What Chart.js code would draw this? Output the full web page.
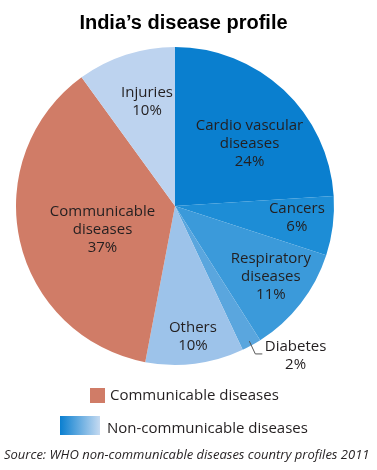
<!DOCTYPE html>
<html>
<head>
<meta charset="utf-8">
<script src="https://cdn.jsdelivr.net/npm/chart.js@4.4.1/dist/chart.umd.min.js"></script>
<style>
  body { margin: 0; background: #fff; }
  #wrap { position: relative; width: 377px; height: 470px; overflow: hidden; }
  #pie { position: absolute; left: 0; top: 0; }
  .txt { position: absolute; white-space: nowrap; color: #231f20; }
  #title { left: 0; width: 367px; top: 11px; text-align: center; font: bold 20px "Liberation Sans", Arial, sans-serif; color: #000; }
  .sw { position: absolute; }
  .leg { font: 15px "Open Sans", sans-serif; }
  #src { left: 4px; top: 445px; font: italic 13px "Open Sans", sans-serif; }
</style>
</head>
<body>
<div id="wrap">
  <canvas id="pie" width="377" height="470"></canvas>
  <div id="title" class="txt">India’s disease profile</div>
  <div class="sw" style="left:90px;top:388px;width:15px;height:15px;background:#d07c67"></div>
  <div class="txt leg" style="left:110px;top:384px">Communicable diseases</div>
  <div class="sw" style="left:60px;top:416px;width:40px;height:19px;background:linear-gradient(to right,#0a7fd0,#c5daf1)"></div>
  <div class="txt leg" style="left:107px;top:417px">Non-communicable diseases</div>
  <div id="src" class="txt">Source: WHO non-communicable diseases country profiles 2011</div>
</div>
<script>
// données (%)
var categories = ["Cardio vascular diseases", "Cancers", "Respiratory diseases", "Diabetes", "Others", "Communicable diseases", "Injuries"];
var values = [24, 6, 11, 2, 10, 37, 10];
var labelLines = [["Cardio vascular", "diseases"], ["Cancers"], ["Respiratory", "diseases"], ["Diabetes"], ["Others"], ["Communicable", "diseases"], ["Injuries"]];
var colors = ["#0a7fcf", "#1d8dd6", "#3b9ada", "#5aa6de", "#9dc3ea", "#d07c67", "#bdd3ef"];

// placement des étiquettes : fraction du rayon, décalage d'angle (degrés)
var placement = [
  { f: 0.61, a: 7 },
  { f: 0.77, a: -1.6 },
  { f: 0.75, a: -1.3 },
  { f: 1.21, a: -10, outside: true },
  { f: 0.83, a: -0.6 },
  { f: 0.48, a: -5.6 },
  { f: 0.68, a: 3 }
];

var sliceLabels = {
  id: "sliceLabels",
  afterDatasetsDraw: function(chart) {
    var ctx = chart.ctx;
    var arcs = chart.getDatasetMeta(0).data;
    ctx.save();
    ctx.fillStyle = "#231f20";
    ctx.font = "15px 'Open Sans', sans-serif";
    ctx.textAlign = "center";
    ctx.textBaseline = "middle";
    arcs.forEach(function(arc, i) {
      var p = arc.getProps(["x", "y", "startAngle", "endAngle", "outerRadius"], true);
      var mid = (p.startAngle + p.endAngle) / 2;
      var pl = placement[i];
      var ang = mid + pl.a * Math.PI / 180;
      var cx = p.x + Math.cos(ang) * p.outerRadius * pl.f;
      var cy = p.y + Math.sin(ang) * p.outerRadius * pl.f;
      var lines = labelLines[i].concat([values[i] + "%"]);
      var lh = 18;
      var y0 = cy - (lines.length - 1) * lh / 2;
      if (pl.outside) {
        // trait de rappel
        var ex = p.x + Math.cos(mid) * p.outerRadius * 0.97;
        var ey = p.y + Math.sin(mid) * p.outerRadius * 0.97;
        ctx.strokeStyle = "#555";
        ctx.lineWidth = 1;
        ctx.beginPath();
        ctx.moveTo(ex, ey);
        ctx.lineTo(ex + 6, y0 + 7);
        ctx.lineTo(ex + 13, y0 + 7);
        ctx.stroke();
      }
      lines.forEach(function(t, k) {
        ctx.fillText(t, cx, y0 + k * lh);
      });
    });
    ctx.restore();
  }
};

var chart = new Chart(document.getElementById("pie").getContext("2d"), {
  type: "pie",
  data: {
    labels: categories,
    datasets: [{
      data: values,
      backgroundColor: colors,
      borderWidth: 0
    }]
  },
  options: {
    responsive: false,
    animation: false,
    layout: { padding: { left: 16, right: 43, top: 47, bottom: 105 } },
    plugins: {
      legend: { display: false },
      tooltip: { enabled: false }
    }
  },
  plugins: [sliceLabels]
});
</script>
</body>
</html>
